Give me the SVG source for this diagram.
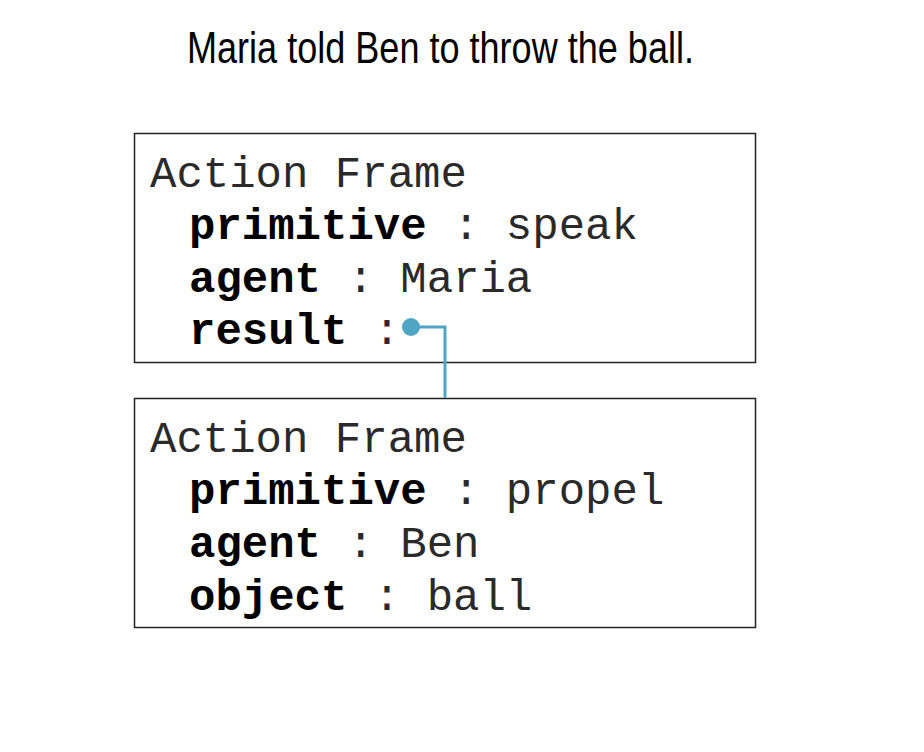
<svg xmlns="http://www.w3.org/2000/svg" width="924" height="752" viewBox="0 0 924 752">
<style>
.box{fill:#fff;stroke:#222;stroke-width:1.5}
.t{font-family:"Liberation Mono","Courier New",monospace;font-size:44px;fill:#2a2a2a}
.b{font-weight:bold;fill:#000}
.title{font-family:"Liberation Sans",Arial,sans-serif;font-size:45px;fill:#000}
.conn{fill:none;stroke:#4fa6c4;stroke-width:3}
</style>
<rect width="924" height="752" fill="#fff"/>
<text class="title" x="187" y="63" textLength="507" lengthAdjust="spacingAndGlyphs">Maria told Ben to throw the ball.</text>
<g id="frame1">
<rect class="box" x="134.5" y="133.5" width="621" height="229"/>
<text class="t" x="150" y="187">Action Frame</text>
<text class="t" x="189" y="239"><tspan class="b">primitive</tspan> : speak</text>
<text class="t" x="189" y="292"><tspan class="b">agent</tspan> : Maria</text>
<text class="t" x="189" y="344"><tspan class="b">result</tspan> :</text>
</g>
<g id="frame2">
<rect class="box" x="134.5" y="398.5" width="621" height="229"/>
<text class="t" x="150" y="452">Action Frame</text>
<text class="t" x="189" y="504"><tspan class="b">primitive</tspan> : propel</text>
<text class="t" x="189" y="557"><tspan class="b">agent</tspan> : Ben</text>
<text class="t" x="189" y="610"><tspan class="b">object</tspan> : ball</text>
</g>
<g id="connectors">
<path class="conn" d="M411 327 H445 V398"/>
<circle cx="411" cy="327" r="9" fill="#4fa6c4"/>
</g>
</svg>
